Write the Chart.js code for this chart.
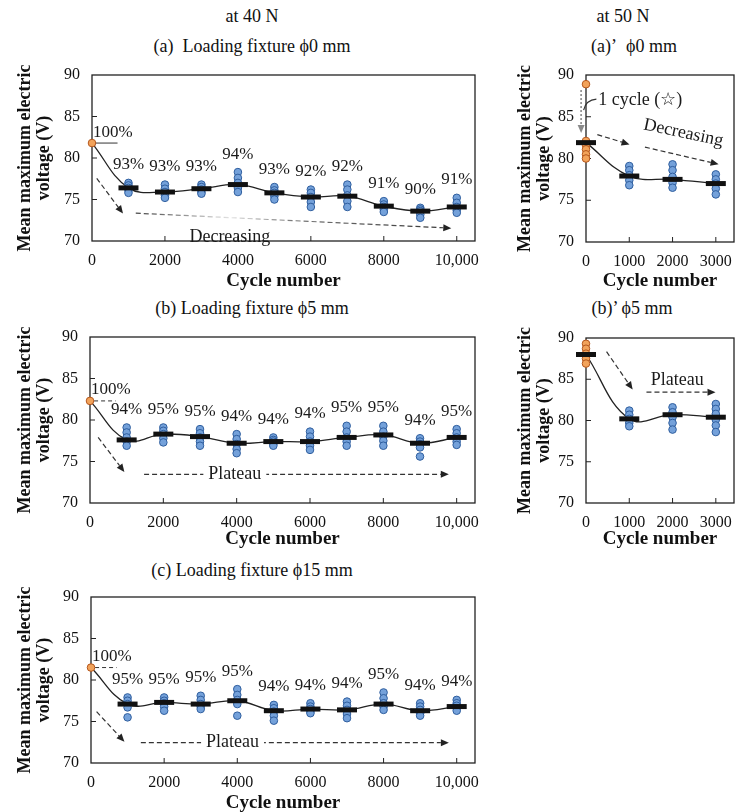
<!DOCTYPE html>
<html>
<head>
<meta charset="utf-8">
<script src="https://cdn.jsdelivr.net/npm/chart.js@4.4.1/dist/chart.umd.min.js"></script>
<style>
  body { margin: 0; background: #fff; }
  #fig { position: relative; width: 749px; height: 812px; overflow: hidden;
         font-family: "Liberation Serif", "Times New Roman", serif; color: #111; }
  .cap { position: absolute; transform: translate(-50%, -50%); white-space: nowrap; font-size: 18px; }
  canvas { position: absolute; }
</style>
</head>
<body>
<div id="fig">
  <div class="cap" style="left:252px;top:16px">at 40 N</div>
  <div class="cap" style="left:252px;top:46px">(a)&nbsp; Loading fixture ϕ0 mm</div>
  <div class="cap" style="left:623px;top:16px">at 50 N</div>
  <div class="cap" style="left:634px;top:46px">(a)’&nbsp; ϕ0 mm</div>
  <div class="cap" style="left:252px;top:308px">(b) Loading fixture ϕ5 mm</div>
  <div class="cap" style="left:632px;top:308px">(b)’ ϕ5 mm</div>
  <div class="cap" style="left:252px;top:570px">(c) Loading fixture ϕ15 mm</div>

  <canvas id="pA" width="490" height="232" style="left:0;top:60px"></canvas>
  <canvas id="pA2" width="249" height="232" style="left:500px;top:60px"></canvas>
  <canvas id="pB" width="490" height="228" style="left:0;top:322px"></canvas>
  <canvas id="pB2" width="249" height="228" style="left:500px;top:322px"></canvas>
  <canvas id="pC" width="490" height="232" style="left:0;top:582px"></canvas>
</div>
<script>
const SERIF = '"Liberation Serif", "Times New Roman", serif';

// cycle numbers and axis ticks
const cyclesLong = [1000, 2000, 3000, 4000, 5000, 6000, 7000, 8000, 9000, 10000];
const cyclesShort = [1000, 2000, 3000];
const xTicksLong = [0, 2000, 4000, 6000, 8000, 10000];
const xTickLabelsLong = ['0', '2000', '4000', '6000', '8000', '10,000'];
const xTicksShort = [0, 1000, 2000, 3000];
const xTickLabelsShort = ['0', '1000', '2000', '3000'];
const yTicks = [70, 75, 80, 85, 90];

// (a) 40 N, fixture 0 mm
const a0Initial = 81.8;
const a0Means = [76.4, 75.9, 76.3, 76.8, 75.8, 75.3, 75.4, 74.2, 73.6, 74.1];
const a0Samples = [
  [77.0, 76.7, 76.4, 76.1, 75.8],
  [76.8, 76.3, 75.9, 75.5, 75.2],
  [76.8, 76.5, 76.2, 75.9, 75.7],
  [78.3, 77.6, 77.0, 76.4, 75.9],
  [76.5, 76.1, 75.8, 75.4, 75.0],
  [76.2, 75.8, 75.3, 74.7, 74.1],
  [76.8, 76.2, 75.5, 74.8, 74.1],
  [74.8, 74.4, 74.1, 73.8, 73.5],
  [74.0, 73.8, 73.6, 73.2, 72.8],
  [75.2, 74.6, 74.1, 73.7, 73.4]
];

// (a)' 50 N, fixture 0 mm
const a50StartSamples = [88.9, 82.1, 81.6, 81.1, 80.5, 80.0];
const a50StartMean = 81.9;
const a50Means = [77.9, 77.5, 77.0];
const a50Samples = [
  [79.1, 78.6, 78.0, 77.4, 76.8],
  [79.3, 78.6, 77.8, 77.1, 76.5],
  [78.1, 77.5, 77.0, 76.4, 75.7]
];

// (b) 40 N, fixture 5 mm
const b5Initial = 82.3;
const b5Means = [77.6, 78.3, 78.0, 77.2, 77.4, 77.4, 77.9, 78.2, 77.2, 77.9];
const b5Samples = [
  [79.1, 78.5, 77.9, 77.4, 76.9],
  [79.1, 78.7, 78.3, 77.8, 77.3],
  [78.9, 78.4, 77.9, 77.4, 76.9],
  [78.3, 77.7, 77.1, 76.5, 76.0],
  [77.9, 77.6, 77.4, 77.1, 76.9],
  [78.6, 78.0, 77.4, 76.9, 76.4],
  [79.3, 78.6, 77.9, 77.4, 76.9],
  [79.3, 78.6, 78.0, 77.5, 76.9],
  [77.8, 77.4, 77.1, 76.7, 75.6],
  [78.9, 78.4, 77.9, 77.4, 77.0]
];

// (b)' 50 N, fixture 5 mm
const b50StartSamples = [89.3, 88.7, 88.1, 87.5, 86.9];
const b50StartMean = 88.0;
const b50Means = [80.2, 80.7, 80.4];
const b50Samples = [
  [81.2, 80.7, 80.2, 79.7, 79.3],
  [81.6, 81.0, 80.4, 79.7, 78.9],
  [82.0, 81.4, 80.8, 80.1, 79.4, 78.6]
];

// (c) 40 N, fixture 15 mm
const c15Initial = 81.5;
const c15Means = [77.1, 77.3, 77.1, 77.5, 76.3, 76.5, 76.4, 77.1, 76.3, 76.8];
const c15Samples = [
  [77.9, 77.5, 77.1, 76.7, 75.5],
  [77.9, 77.5, 77.2, 76.8, 76.3],
  [78.1, 77.6, 77.1, 76.8, 76.5],
  [78.9, 78.2, 77.6, 77.1, 75.7],
  [77.0, 76.6, 76.2, 75.7, 75.1],
  [77.2, 76.8, 76.5, 76.2, 76.0],
  [77.4, 76.9, 76.4, 75.9, 75.4],
  [78.5, 77.8, 77.2, 76.8, 76.4],
  [77.2, 76.8, 76.4, 76.0, 75.7],
  [77.6, 77.2, 76.9, 76.6, 76.3]
];

const BLUE_FILL = '#74A1DA', BLUE_EDGE = '#2F5E9E';
const ORANGE_FILL = '#F2A35B', ORANGE_EDGE = '#B4561C';

function drawArrow(ctx, x1, y1, x2, y2, ar) {
  const ang = Math.atan2(y2 - y1, x2 - x1);
  const head = 8, half = 3.5;
  ctx.save();
  ctx.lineWidth = ar.width || 1.2;
  ctx.setLineDash(ar.dash || [5, 3]);
  if (ar.fade) {
    const g = ctx.createLinearGradient(x1, y1, x2, y2);
    g.addColorStop(0, '#444');
    g.addColorStop(0.3, '#e2e2e2');
    g.addColorStop(0.5, '#777');
    g.addColorStop(1, '#333');
    ctx.strokeStyle = g;
  } else {
    ctx.strokeStyle = ar.color || '#333';
  }
  ctx.beginPath();
  ctx.moveTo(x1, y1);
  ctx.lineTo(x2 - head * Math.cos(ang), y2 - head * Math.sin(ang));
  ctx.stroke();
  ctx.setLineDash([]);
  ctx.fillStyle = ar.color || '#222';
  ctx.beginPath();
  ctx.moveTo(x2, y2);
  ctx.lineTo(x2 - head * Math.cos(ang) + half * Math.sin(ang), y2 - head * Math.sin(ang) - half * Math.cos(ang));
  ctx.lineTo(x2 - head * Math.cos(ang) - half * Math.sin(ang), y2 - head * Math.sin(ang) + half * Math.cos(ang));
  ctx.closePath();
  ctx.fill();
  ctx.restore();
}

// box, inward ticks, arrows and text notes
const framePlugin = {
  id: 'frame',
  beforeDatasetsDraw(chart) {
    const {ctx, chartArea: a, scales: {x, y}} = chart;
    ctx.save();
    ctx.strokeStyle = '#222';
    ctx.lineWidth = 1.3;
    ctx.strokeRect(a.left, a.top, a.right - a.left, a.bottom - a.top);
    ctx.lineWidth = 1;
    ctx.beginPath();
    x.ticks.forEach(t => {
      if (t.value === 0) return;
      const px = x.getPixelForValue(t.value);
      ctx.moveTo(px, a.bottom); ctx.lineTo(px, a.bottom - 5);
    });
    y.ticks.forEach(t => {
      if (t.value === y.min || t.value === y.max) return;
      const py = y.getPixelForValue(t.value);
      ctx.moveTo(a.left, py); ctx.lineTo(a.left + 5, py);
    });
    ctx.stroke();
    ctx.restore();
  },
  afterDatasetsDraw(chart, args, opts) {
    const {ctx, scales: {x, y}} = chart;
    const P = (v) => [x.getPixelForValue(v[0]), y.getPixelForValue(v[1])];
    ctx.save();
    (opts.arrows || []).forEach(ar => {
      const [x1, y1] = P(ar.from), [x2, y2] = P(ar.to);
      drawArrow(ctx, x1, y1, x2, y2, ar);
    });
    (opts.leaders || []).forEach(l => {
      const [x1, y1] = P(l.from), [cx, cy] = P(l.ctrl), [x2, y2] = P(l.to);
      ctx.strokeStyle = '#333';
      ctx.lineWidth = 1.2;
      ctx.beginPath();
      ctx.moveTo(x1, y1);
      ctx.quadraticCurveTo(cx, cy, x2, y2);
      ctx.stroke();
    });
    (opts.notes || []).forEach(n => {
      const [tx, ty] = P(n.at);
      ctx.save();
      ctx.translate(tx, ty);
      ctx.rotate((n.rotate || 0) * Math.PI / 180);
      ctx.font = (n.size || 18) + 'px ' + SERIF;
      ctx.textAlign = n.align || 'center';
      ctx.textBaseline = 'middle';
      if (n.bg) {
        const w = ctx.measureText(n.text).width;
        ctx.fillStyle = '#fff';
        ctx.fillRect(-w / 2 - 5, -8, w + 10, 16);
      }
      ctx.fillStyle = '#1a1a1a';
      ctx.fillText(n.text, 0, 0);
      ctx.restore();
    });
    // retention percentages relative to the first cycle
    if (opts.pct) {
      const {initial, cycles, means, samples} = opts.pct;
      ctx.font = '17px ' + SERIF;
      ctx.fillStyle = '#1a1a1a';
      ctx.textBaseline = 'middle';
      ctx.textAlign = 'left';
      ctx.fillText('100%', x.getPixelForValue(0) + 1, y.getPixelForValue(initial) - 11);
      ctx.textAlign = 'center';
      cycles.forEach((c, i) => {
        const top = y.getPixelForValue(Math.max(...samples[i]));
        ctx.fillText(Math.round(means[i] / initial * 100) + '%', x.getPixelForValue(c), top - 18);
      });
    }
    ctx.restore();
  }
};

function buildPanel(canvasId, p) {
  const dots = [];
  p.cycles.forEach((c, i) => p.samples[i].forEach(v => dots.push({x: c, y: v})));
  const meanPts = p.cycles.map((c, i) => ({x: c, y: p.means[i]}));
  const curve = [{x: 0, y: p.start}].concat(meanPts);
  const bars = p.startBar ? [{x: 0, y: p.start}].concat(meanPts) : meanPts;

  const datasets = [
    { data: bars, pointStyle: 'line', pointRadius: 10, pointBorderWidth: 5,
      pointBorderColor: '#111', showLine: false, order: 0, clip: false },
    { data: p.startSamples.map(v => ({x: 0, y: v})), pointRadius: 3.8, pointBorderWidth: 1,
      pointBackgroundColor: ORANGE_FILL, pointBorderColor: ORANGE_EDGE, showLine: false, order: 1, clip: false },
    { data: dots, pointRadius: 3.8, pointBorderWidth: 1,
      pointBackgroundColor: BLUE_FILL, pointBorderColor: BLUE_EDGE, showLine: false, order: 2, clip: false },
    { data: curve, showLine: true, tension: 0.4, borderColor: '#222', borderWidth: 1.3,
      pointRadius: 0, order: 3, clip: false }
  ];
  if (p.refLine) {
    datasets.push({ data: [{x: -80, y: p.start}, {x: 700, y: p.start}], showLine: true,
      borderColor: '#333', borderWidth: 1, borderDash: p.refLine.dash, pointRadius: 0, order: 4, clip: false });
  }

  return new Chart(document.getElementById(canvasId), {
    type: 'scatter',
    data: { datasets },
    options: {
      responsive: false,
      animation: false,
      events: [],
      layout: { padding: { top: p.box.top, right: p.box.right, left: 0, bottom: 0 } },
      plugins: {
        legend: { display: false },
        tooltip: { enabled: false },
        frame: { arrows: p.arrows, notes: p.notes, leaders: p.leaders, pct: p.pct }
      },
      scales: {
        x: {
          type: 'linear', min: 0, max: p.xMax,
          grid: { display: false, drawTicks: false },
          border: { display: false },
          afterBuildTicks: s => { s.ticks = p.xTicks.map(v => ({value: v})); },
          ticks: { font: { family: SERIF, size: 16 }, color: '#111', padding: 10,
                   maxRotation: 0, autoSkip: false, callback: (v, i) => p.xLabels[i] },
          title: { display: true, text: 'Cycle number', color: '#111',
                   font: { family: SERIF, size: 19, weight: 'bold' }, padding: { top: 0, bottom: p.box.titleBottom } },
          afterFit: s => { s.height = p.box.xH; s.paddingLeft = 0; s.paddingRight = 0; }
        },
        y: {
          min: 70, max: 90,
          grid: { display: false, drawTicks: false },
          border: { display: false },
          afterBuildTicks: s => { s.ticks = yTicks.map(v => ({value: v})); },
          ticks: { font: { family: SERIF, size: 16 }, color: '#111', padding: 12 },
          title: { display: true, text: ['Mean maximum electric', 'voltage (V)'], color: '#111',
                   font: { family: SERIF, size: 18, weight: 'bold', lineHeight: 1.1 }, padding: { top: 15, bottom: 0 } },
          afterFit: s => { s.width = p.box.yW; s.paddingTop = 0; s.paddingBottom = 0; }
        }
      }
    },
    plugins: [framePlugin]
  });
}

buildPanel('pA', {
  cycles: cyclesLong, means: a0Means, samples: a0Samples,
  start: a0Initial, startSamples: [a0Initial], startBar: false, refLine: { dash: [] },
  xMax: 10500, xTicks: xTicksLong, xLabels: xTickLabelsLong,
  box: { top: 15, right: 9, yW: 92, xH: 51, titleBottom: 0 },
  pct: { initial: a0Initial, cycles: cyclesLong, means: a0Means, samples: a0Samples },
  arrows: [ { from: [130, 77.55], to: [850, 73.3] }, { from: [1200, 73.35], to: [9850, 71.55], fade: true } ],
  notes: [ { text: 'Decreasing', at: [3780, 70.45], size: 18 } ]
});

buildPanel('pA2', {
  cycles: cyclesShort, means: a50Means, samples: a50Samples,
  start: a50StartMean, startSamples: a50StartSamples, startBar: true,
  xMax: 3420, xTicks: xTicksShort, xLabels: xTickLabelsShort,
  box: { top: 13, right: 2, yW: 86, xH: 50, titleBottom: 0 },
  arrows: [ { from: [262, 82.86], to: [1006, 81.68] }, { from: [1362, 81.36], to: [3064, 79.31] },
            { from: [-113, 88.2], to: [-113, 83.05], dash: [2, 2], color: '#8a8a8a', width: 1.6 } ],
  leaders: [ { from: [240, 87.1], ctrl: [0, 87.0], to: [-55, 85.8] } ],
  notes: [ { text: 'Decreasing', at: [2249, 83.05], size: 18, rotate: 12 },
           { text: '1 cycle (☆)', at: [285, 87.0], size: 18, align: 'left' } ]
});

buildPanel('pB', {
  cycles: cyclesLong, means: b5Means, samples: b5Samples,
  start: b5Initial, startSamples: [b5Initial], startBar: false, refLine: { dash: [4, 3] },
  xMax: 10500, xTicks: xTicksLong, xLabels: xTickLabelsLong,
  box: { top: 13, right: 9, yW: 90, xH: 47, titleBottom: 0 },
  pct: { initial: b5Initial, cycles: cyclesLong, means: b5Means, samples: b5Samples },
  arrows: [ { from: [223, 77.9], to: [938, 73.73] }, { from: [1475, 73.45], to: [9786, 73.45] } ],
  notes: [ { text: 'Plateau', at: [3950, 73.45], size: 18, bg: true } ]
});

buildPanel('pB2', {
  cycles: cyclesShort, means: b50Means, samples: b50Samples,
  start: b50StartMean, startSamples: b50StartSamples, startBar: true,
  xMax: 3420, xTicks: xTicksShort, xLabels: xTickLabelsShort,
  box: { top: 16, right: 1, yW: 86, xH: 47, titleBottom: 0 },
  arrows: [ { from: [475, 88.34], to: [1078, 83.76] }, { from: [1397, 83.43], to: [2993, 83.43] } ],
  notes: [ { text: 'Plateau', at: [2106, 84.93], size: 18 } ]
});

buildPanel('pC', {
  cycles: cyclesLong, means: c15Means, samples: c15Samples,
  start: c15Initial, startSamples: [c15Initial], startBar: false, refLine: { dash: [4, 3] },
  xMax: 10500, xTicks: xTicksLong, xLabels: xTickLabelsLong,
  box: { top: 15, right: 9, yW: 91, xH: 51, titleBottom: 0 },
  pct: { initial: c15Initial, cycles: cyclesLong, means: c15Means, samples: c15Samples },
  arrows: [ { from: [153, 76.18], to: [914, 72.57] }, { from: [1363, 72.45], to: [9785, 72.45] } ],
  notes: [ { text: 'Plateau', at: [3871, 72.45], size: 18, bg: true } ]
});
</script>
</body>
</html>
